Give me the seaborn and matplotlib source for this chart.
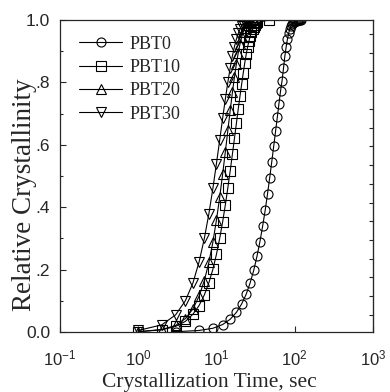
import numpy as np
import pandas as pd
import seaborn as sns
import matplotlib.pyplot as plt
from matplotlib.ticker import FixedLocator, MultipleLocator

# crystallization time (sec) and relative crystallinity
t_pbt0 = [3, 6, 9, 12, 15, 18, 21, 24, 27, 30, 33, 36, 39, 42, 45, 48, 51, 54, 57, 60,
          63, 66, 69, 72, 75, 78, 81, 84, 87, 90, 93, 96, 99, 102, 105, 108, 111, 114, 117, 120]
x_pbt0 = [0.001, 0.005, 0.012, 0.024, 0.041, 0.063, 0.090, 0.121, 0.158, 0.198, 0.243, 0.290,
          0.340, 0.390, 0.443, 0.495, 0.546, 0.596, 0.643, 0.688, 0.732, 0.772, 0.805, 0.845,
          0.885, 0.915, 0.940, 0.958, 0.972, 0.981, 0.987, 0.991, 0.994, 0.996, 0.997, 0.998,
          0.999, 0.9995, 1.0, 1.0]

t_pbt10 = [1, 2, 3, 4, 5, 6, 7, 8, 9, 10, 11, 12, 13, 14, 15, 16, 17, 18, 19, 20, 21, 22,
           23, 24, 25, 26, 27, 28, 29, 30, 31, 32, 33, 47]
x_pbt10 = [0.001, 0.007, 0.018, 0.034, 0.057, 0.085, 0.119, 0.158, 0.201, 0.249, 0.300, 0.353,
           0.408, 0.463, 0.517, 0.570, 0.621, 0.669, 0.715, 0.756, 0.794, 0.830, 0.862, 0.890,
           0.913, 0.932, 0.948, 0.960, 0.970, 0.978, 0.984, 0.989, 0.992, 1.0]

t_pbt20 = [1, 2, 3, 4, 5, 6, 7, 8, 9, 10, 11, 12, 13, 14, 15, 16, 17, 18, 19, 20, 21, 22,
           23, 24, 25, 26, 27, 28, 29, 30]
x_pbt20 = [0.001, 0.008, 0.021, 0.043, 0.074, 0.115, 0.165, 0.223, 0.288, 0.359, 0.432, 0.506,
           0.578, 0.647, 0.711, 0.768, 0.818, 0.860, 0.895, 0.923, 0.945, 0.962, 0.974, 0.983,
           0.989, 0.993, 0.996, 0.998, 0.999, 1.0]

t_pbt30 = [1, 2, 3, 4, 5, 6, 7, 8, 9, 10, 11, 12, 13, 14, 15, 16, 17, 18, 19, 20, 21, 22,
           23, 24, 25, 26, 27, 28]
x_pbt30 = [0.005, 0.023, 0.055, 0.100, 0.157, 0.225, 0.300, 0.379, 0.460, 0.540, 0.615, 0.685,
           0.747, 0.801, 0.847, 0.885, 0.915, 0.939, 0.957, 0.970, 0.980, 0.987, 0.991, 0.994,
           0.996, 0.998, 0.999, 1.0]

names = ["PBT0", "PBT10", "PBT20", "PBT30"]
markers = ["o", "s", "^", "v"]
series = [(t_pbt0, x_pbt0), (t_pbt10, x_pbt10), (t_pbt20, x_pbt20), (t_pbt30, x_pbt30)]

x_ticks = [0.1, 1, 10, 100, 1000]
x_ticklabels = ["10$^{-1}$", "10$^{0}$", "10$^{1}$", "10$^{2}$", "10$^{3}$"]
y_ticks = [0.0, 0.2, 0.4, 0.6, 0.8, 1.0]
y_ticklabels = ["0.0", ".2", ".4", ".6", ".8", "1.0"]

sns.set_style("ticks")
plt.rcParams["font.family"] = ["Liberation Sans", "DejaVu Sans"]
plt.rcParams["mathtext.fontset"] = "custom"
plt.rcParams["mathtext.rm"] = "Liberation Sans"
plt.rcParams["mathtext.it"] = "Liberation Sans"
serif = ["Liberation Serif", "DejaVu Serif"]

fig = plt.figure(figsize=(3.9, 3.92), dpi=100)
ax = fig.add_axes([0.154, 0.153, 0.802, 0.796])

for name, mk, (t, xc) in zip(names, markers, series):
    df = pd.DataFrame({"t": t, "X": xc})
    sns.lineplot(data=df, x="t", y="X", ax=ax, estimator=None, color="black",
                 lw=0.8, marker=mk, ms=6.5, mfc="none", mec="black", mew=0.8,
                 label=name)

ax.set_xscale("log")
ax.set_xlim(0.1, 1000)
ax.set_ylim(0, 1.0)

ax.xaxis.set_major_locator(FixedLocator(x_ticks))
ax.xaxis.set_minor_locator(FixedLocator([]))
ax.set_xticklabels(x_ticklabels)
ax.yaxis.set_major_locator(FixedLocator(y_ticks))
ax.yaxis.set_minor_locator(MultipleLocator(0.1))
ax.set_yticklabels(y_ticklabels)

ax.tick_params(which="both", direction="in", top=False, right=False)
ax.tick_params(which="major", length=4, width=0.8)
ax.tick_params(which="minor", length=2.5, width=0.8)
ax.tick_params(axis="x", which="major", pad=12, labelsize=12)
ax.tick_params(axis="y", which="major", pad=7, labelsize=12.5)

# small inward ticks along the right edge
rax = ax.secondary_yaxis("right")
rax.set_yticks(np.arange(0.055, 0.99, 0.06))
rax.tick_params(direction="in", length=3, width=0.8, labelright=False)
rax.set_yticklabels([])

for s in ax.spines.values():
    s.set_linewidth(0.9)

ax.set_xlabel("Crystallization Time, sec", fontsize=15.5, family=serif)
ax.xaxis.set_label_coords(0.476, -0.132)
ax.set_ylabel("Relative Crystallinity", fontsize=19.5, family=serif)
ax.yaxis.set_label_coords(-0.074, 0.44)

leg = ax.legend(loc="upper left", frameon=False, prop={"family": serif, "size": 13},
                handlelength=2.4, handletextpad=0.4, labelspacing=0.35,
                borderaxespad=0.3, bbox_to_anchor=(0.02, 0.99))

fig.savefig("out.png", dpi=100)
